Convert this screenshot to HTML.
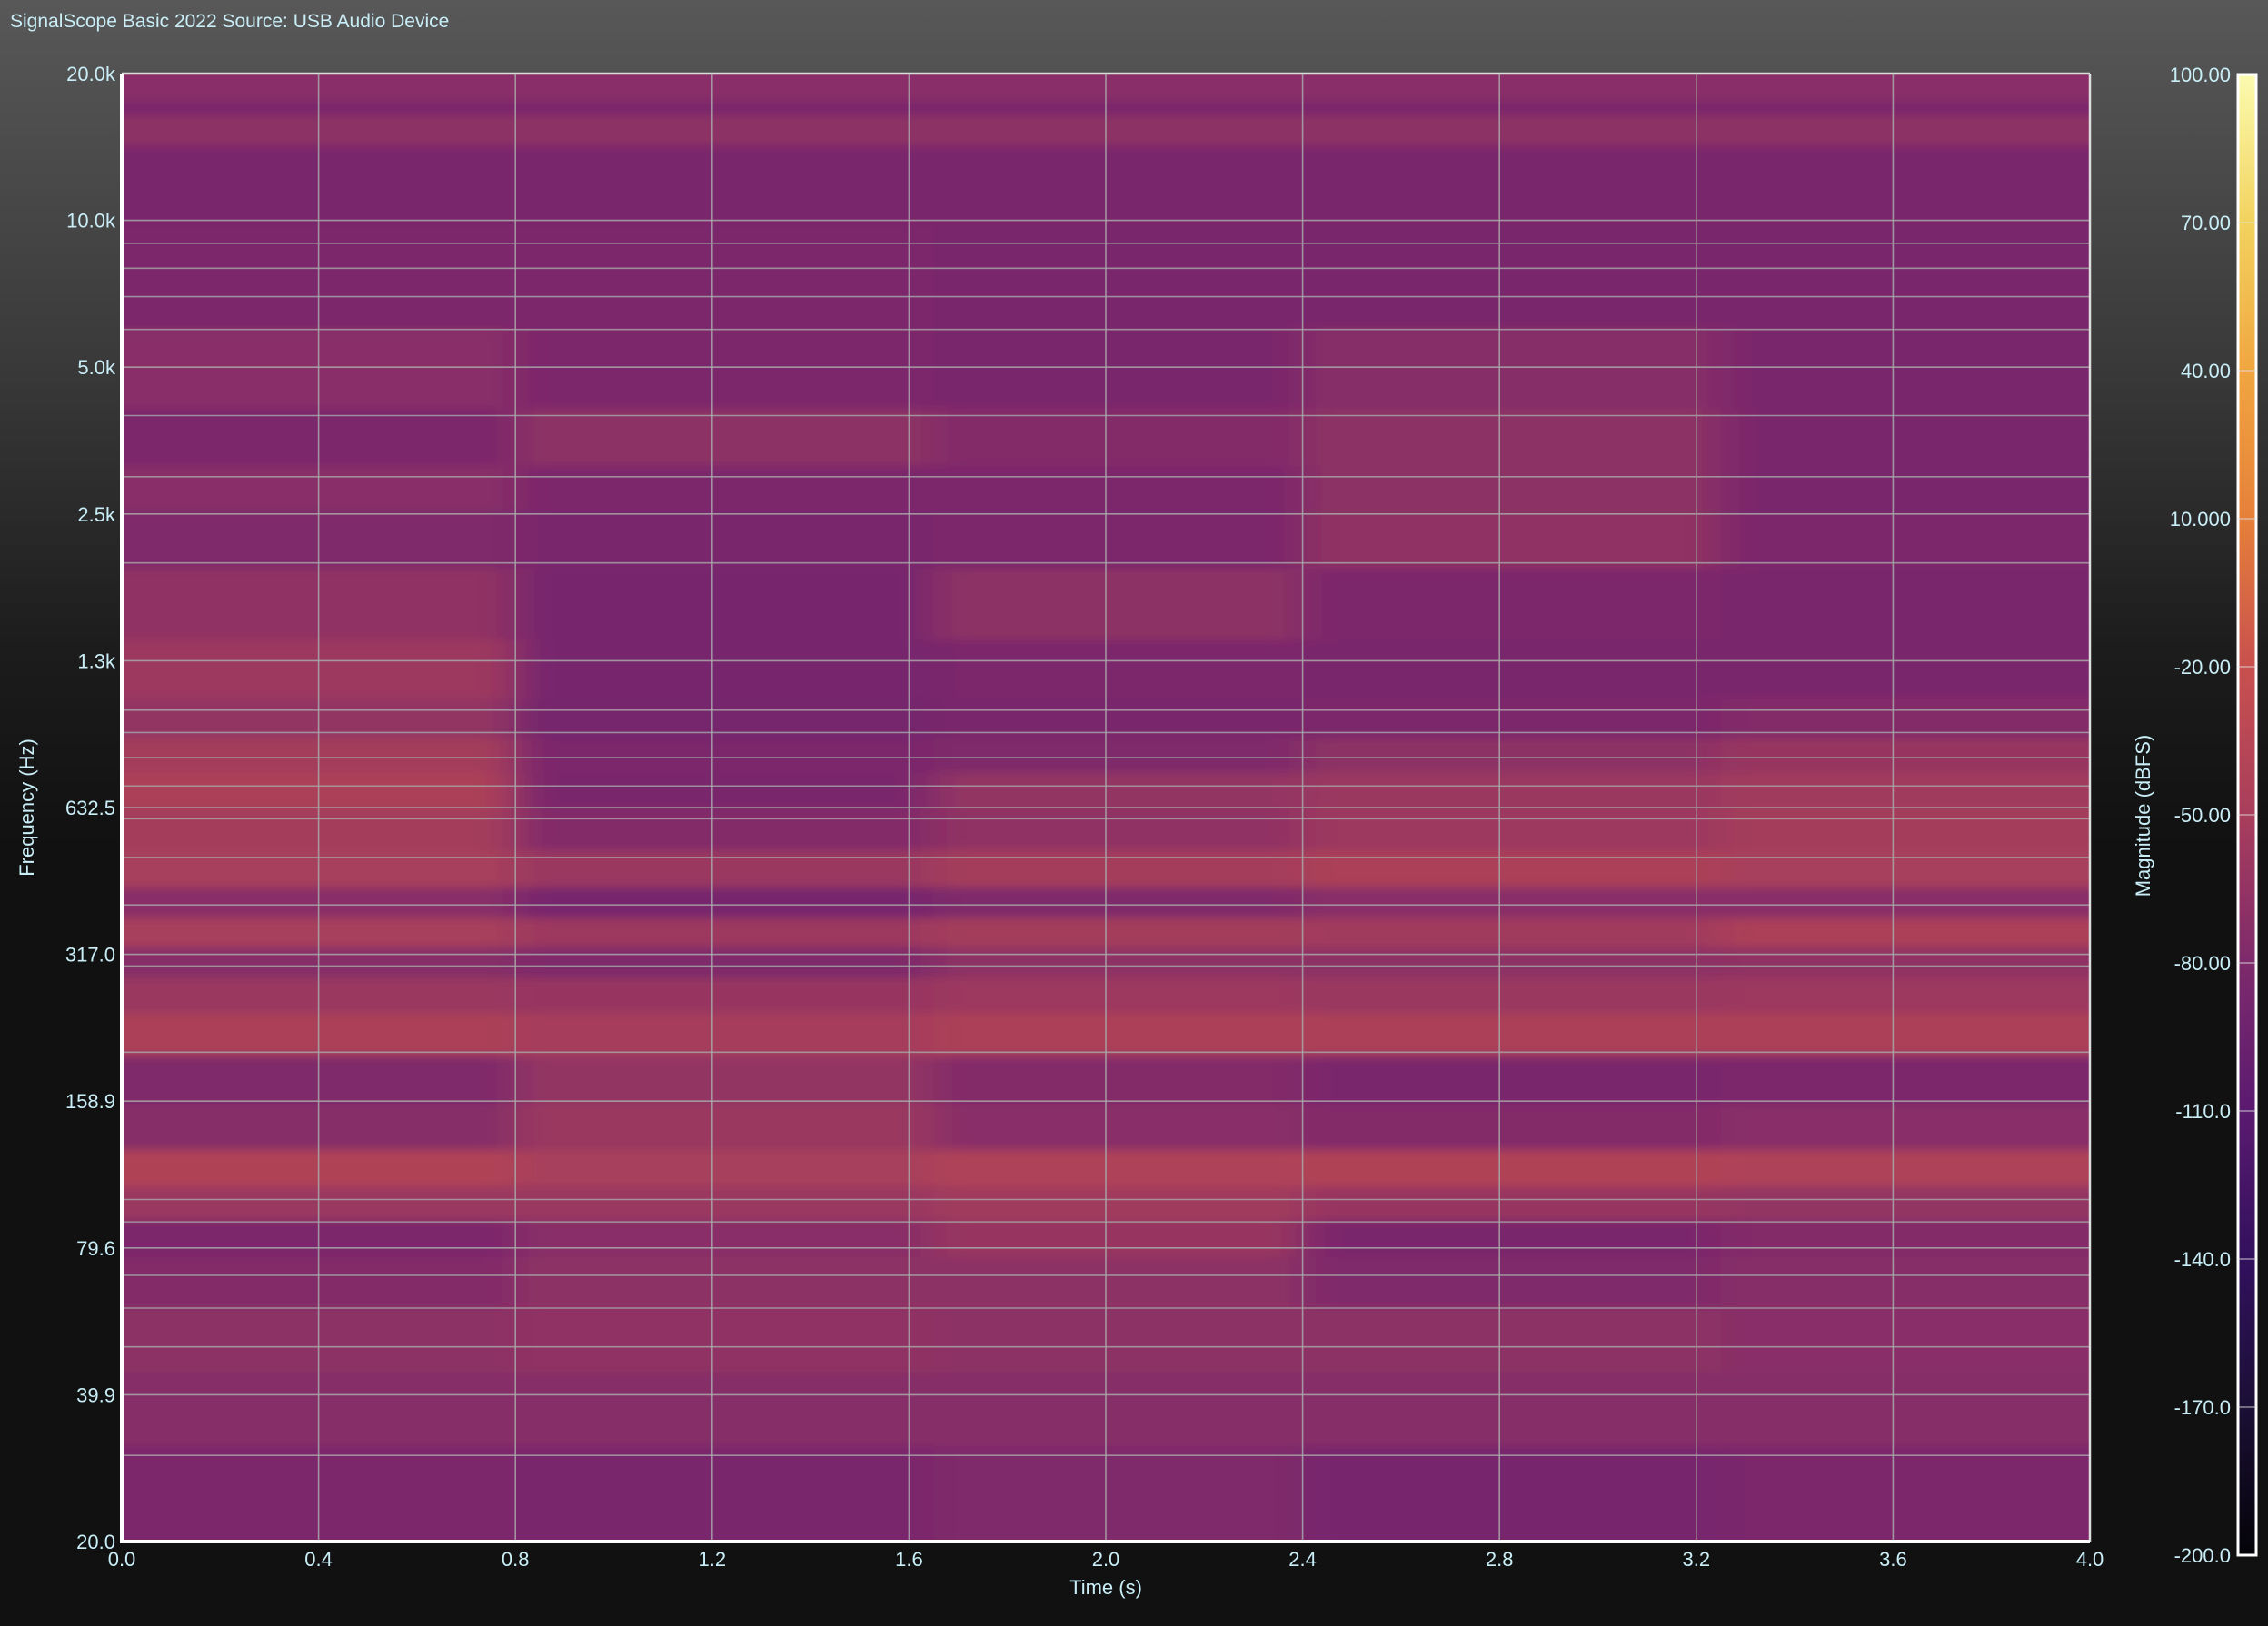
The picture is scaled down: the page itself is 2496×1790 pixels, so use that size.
<!DOCTYPE html>
<html><head><meta charset="utf-8">
<style>
html,body{margin:0;padding:0;}
body{width:2496px;height:1790px;overflow:hidden;background:linear-gradient(#585858 0%,#3a3a3a 22%,#1c1c1c 40%,#111 52%,#111 100%);font-family:"Liberation Sans",sans-serif;}
svg{position:absolute;left:0;top:0;}
text{fill:#c9eef7;font-family:"Liberation Sans",sans-serif;}
</style></head>
<body>
<svg id="chart" width="2496" height="1790" viewBox="0 0 2496 1790" xmlns="http://www.w3.org/2000/svg">
  <defs>
    <clipPath id="plotclip"><rect x="134" y="81" width="2166" height="1616"/></clipPath>
    <filter id="smooth" x="-5%" y="-5%" width="110%" height="110%">
      <feGaussianBlur stdDeviation="22 5" edgeMode="duplicate"/>
    </filter>
    <linearGradient id="cbgrad" x1="0" y1="1" x2="0" y2="0">
      <stop offset="0" stop-color="#040308"/><stop offset="0.1" stop-color="#1a0f35"/>
      <stop offset="0.2" stop-color="#32105e"/><stop offset="0.3" stop-color="#5a1a70"/>
      <stop offset="0.4" stop-color="#7e2a6c"/><stop offset="0.5" stop-color="#a83e5c"/>
      <stop offset="0.6" stop-color="#c8504e"/><stop offset="0.7" stop-color="#e6803a"/>
      <stop offset="0.8" stop-color="#f0a640"/><stop offset="0.9" stop-color="#f2d25e"/>
      <stop offset="1" stop-color="#fbfbb0"/>
    </linearGradient>
  </defs>
  <text x="11" y="30" font-size="21">SignalScope Basic 2022 Source:  USB Audio Device</text>
  <g id="heat" clip-path="url(#plotclip)"><g id="cells" filter="url(#smooth)"></g></g>
  <g id="grid"></g>
  <g id="axes"></g>
  <g id="cbar"></g>
  <text x="1217" y="1755" font-size="22" text-anchor="middle">Time (s)</text>
  <text transform="translate(37,889) rotate(-90)" font-size="22" text-anchor="middle">Frequency (Hz)</text>
  <text transform="translate(2366,898) rotate(-90)" font-size="22" text-anchor="middle">Magnitude (dBFS)</text>
</svg>
<script>
const segEdges = [0, 0.8, 1.65, 2.4, 3.25, 4.0];
const bandFreqs = [18200,17000,15900,12800,7400,4900,3500,2850,2300,1650,1170,955,805,690,575,465,406,348,309,260,223,173,141,113,100,82,71,51,38.5,25.5];
const bandLevels = [
 [-72,-72,-72,-72,-72],[-80,-80,-80,-80,-80],[-70,-70,-70,-70,-70],[-82,-82,-82,-82,-82],
 [-80,-80,-82,-82,-82],[-72,-80,-82,-74,-82],[-80,-70,-76,-70,-82],[-72,-80,-80,-70,-82],
 [-78,-82,-80,-68,-80],[-68,-84,-70,-80,-82],[-60,-84,-80,-82,-82],[-66,-86,-82,-80,-76],
 [-56,-80,-78,-70,-64],[-52,-82,-66,-62,-58],[-56,-76,-68,-60,-56],[-54,-62,-56,-52,-54],
 [-72,-84,-78,-72,-72],[-54,-60,-56,-58,-52],[-74,-78,-70,-70,-68],[-62,-64,-60,-62,-60],
 [-52,-55,-52,-52,-52],[-78,-66,-76,-82,-80],[-74,-62,-72,-76,-72],[-48,-54,-50,-48,-50],
 [-62,-62,-58,-64,-66],[-80,-72,-64,-82,-76],[-76,-70,-70,-78,-74],[-70,-68,-70,-70,-72],
 [-74,-74,-74,-74,-74],[-80,-82,-78,-84,-80]];
const xTicks = [0,0.4,0.8,1.2,1.6,2.0,2.4,2.8,3.2,3.6,4.0];
const xTickLabels = ["0.0","0.4","0.8","1.2","1.6","2.0","2.4","2.8","3.2","3.6","4.0"];
const yTicks = [20,39.9,79.6,158.9,317,632.5,1300,2500,5000,10000,20000];
const yTickLabels = ["20.0","39.9","79.6","158.9","317.0","632.5","1.3k","2.5k","5.0k","10.0k","20.0k"];
const yMinorTicks = [9000,8000,7000,6000,4000,3000,2000,1000,900,800,700,600,500,400,300,200,100,90,70,60,50,30];
const cbTicks = [100,70,40,10,-20,-50,-80,-110,-140,-170,-200];
const cbTickLabels = ["100.00","70.00","40.00","10.000","-20.00","-50.00","-80.00","-110.0","-140.0","-170.0","-200.0"];

const NS="http://www.w3.org/2000/svg";
const PX0=134,PX1=2300,PY0=81,PY1=1697;
const fMin=20,fMax=20000*Math.pow(2,0.0)*1.0;
const octMax=Math.log2(20480/20);
function xs(t){return PX0+(t-0)/(4-0)*(PX1-PX0);}
function ys(f){const o=Math.log2(f/20);const y=PY1-o/ (Math.log2(20000/20)) *(PY1-PY0)*(Math.log2(20000/20)/Math.log2(20000/20));return y;}
function ysLab(i){return PY1-i*(PY1-PY0)/10;}
const cstops=[[-200,[4,3,8]],[-170,[26,15,53]],[-140,[50,16,94]],[-110,[90,26,112]],[-80,[124,40,108]],[-50,[174,66,88]],[-20,[200,80,78]],[10,[230,128,58]],[40,[240,166,64]],[70,[242,210,94]],[100,[251,251,176]]];
function cmap(v){v=Math.max(-200,Math.min(100,v));for(let i=0;i<cstops.length-1;i++){const a=cstops[i],b=cstops[i+1];if(v<=b[0]){const t=(v-a[0])/(b[0]-a[0]);const c=a[1].map((x,k)=>Math.round(x+(b[1][k]-x)*t));return `rgb(${c[0]},${c[1]},${c[2]})`;}}return "rgb(251,251,176)";}
function mk(tag,attrs,parent){const e=document.createElementNS(NS,tag);for(const k in attrs)e.setAttribute(k,attrs[k]);parent.appendChild(e);return e;}

// heatmap cells
const cells=document.getElementById('cells');
for(let r=0;r<bandFreqs.length;r++){
  const fTop = r===0 ? 30000 : Math.sqrt(bandFreqs[r]*bandFreqs[r-1]);
  const fBot = r===bandFreqs.length-1 ? 12 : Math.sqrt(bandFreqs[r]*bandFreqs[r+1]);
  const yT=ys(fTop), yB=ys(fBot);
  for(let s=0;s<segEdges.length-1;s++){
    const x0 = s===0 ? xs(segEdges[s])-60 : xs(segEdges[s]);
    const x1 = s===segEdges.length-2 ? xs(segEdges[s+1])+60 : xs(segEdges[s+1]);
    const el=mk('rect',{x:x0,y:yT,width:x1-x0+0.5,height:yB-yT+0.5,fill:cmap(bandLevels[r][s])},cells);
    
    
  }
}

// grid
const grid=document.getElementById('grid');
xTicks.forEach((t,i)=>{ if(i>0&&i<xTicks.length-1){const l=mk('line',{x1:xs(t),x2:xs(t),y1:PY0,y2:PY1,stroke:'#a8a8a8','stroke-width':1.6,'stroke-opacity':0.85},grid);
  
  }});
yTicks.forEach((f,i)=>{ if(i>0&&i<yTicks.length-1){const y=ysLab(i);const l=mk('line',{x1:PX0,x2:PX1,y1:y,y2:y,stroke:'#a8a8a8','stroke-width':1.6,'stroke-opacity':0.85},grid);
  
  }});
yMinorTicks.forEach(f=>{const y=ys(f);const l=mk('line',{x1:PX0,x2:PX1,y1:y,y2:y,stroke:'#a8a8a8','stroke-width':1.6,'stroke-opacity':0.8},grid);
  
  });

// axes
const axes=document.getElementById('axes');
mk('line',{x1:PX0,x2:PX1,y1:PY0,y2:PY0,stroke:'#dcdcdc','stroke-width':2.5},axes);
mk('line',{x1:PX1,x2:PX1,y1:PY0,y2:PY1,stroke:'#dcdcdc','stroke-width':2.5},axes);
mk('line',{x1:PX0,x2:PX0,y1:PY0,y2:PY1+2,stroke:'#ffffff','stroke-width':4},axes);
mk('line',{x1:PX0-2,x2:PX1,y1:PY1,y2:PY1,stroke:'#ffffff','stroke-width':4},axes);
xTicks.forEach((t,i)=>{const el=mk('text',{x:xs(t),y:1724,'font-size':22,'text-anchor':'middle'},axes);el.textContent=xTickLabels[i];
  
  });
yTicks.forEach((f,i)=>{const el=mk('text',{x:127,y:ysLab(i)+8,'font-size':22,'text-anchor':'end'},axes);el.textContent=yTickLabels[i];
  
  });

// colorbar
const cb=document.getElementById('cbar');
const CY0=82,CY1=1712,CX0=2463,CX1=2483;
mk('rect',{x:CX0,y:CY0,width:CX1-CX0,height:CY1-CY0,fill:'url(#cbgrad)',stroke:'#ffffff','stroke-width':3},cb);
function cy(v){return CY1-(v+200)/300*(CY1-CY0);}
cbTicks.forEach((v,i)=>{const y=cy(v);
  if(i>0&&i<cbTicks.length-1){const l=mk('line',{x1:CX0,x2:CX1,y1:y,y2:y,stroke:'#dddddd','stroke-opacity':0.6,'stroke-width':1.5},cb);
    
    }
  const el=mk('text',{x:2455,y:y+8,'font-size':22,'text-anchor':'end'},cb);el.textContent=cbTickLabels[i];
  
  });
</script>
</body></html>
